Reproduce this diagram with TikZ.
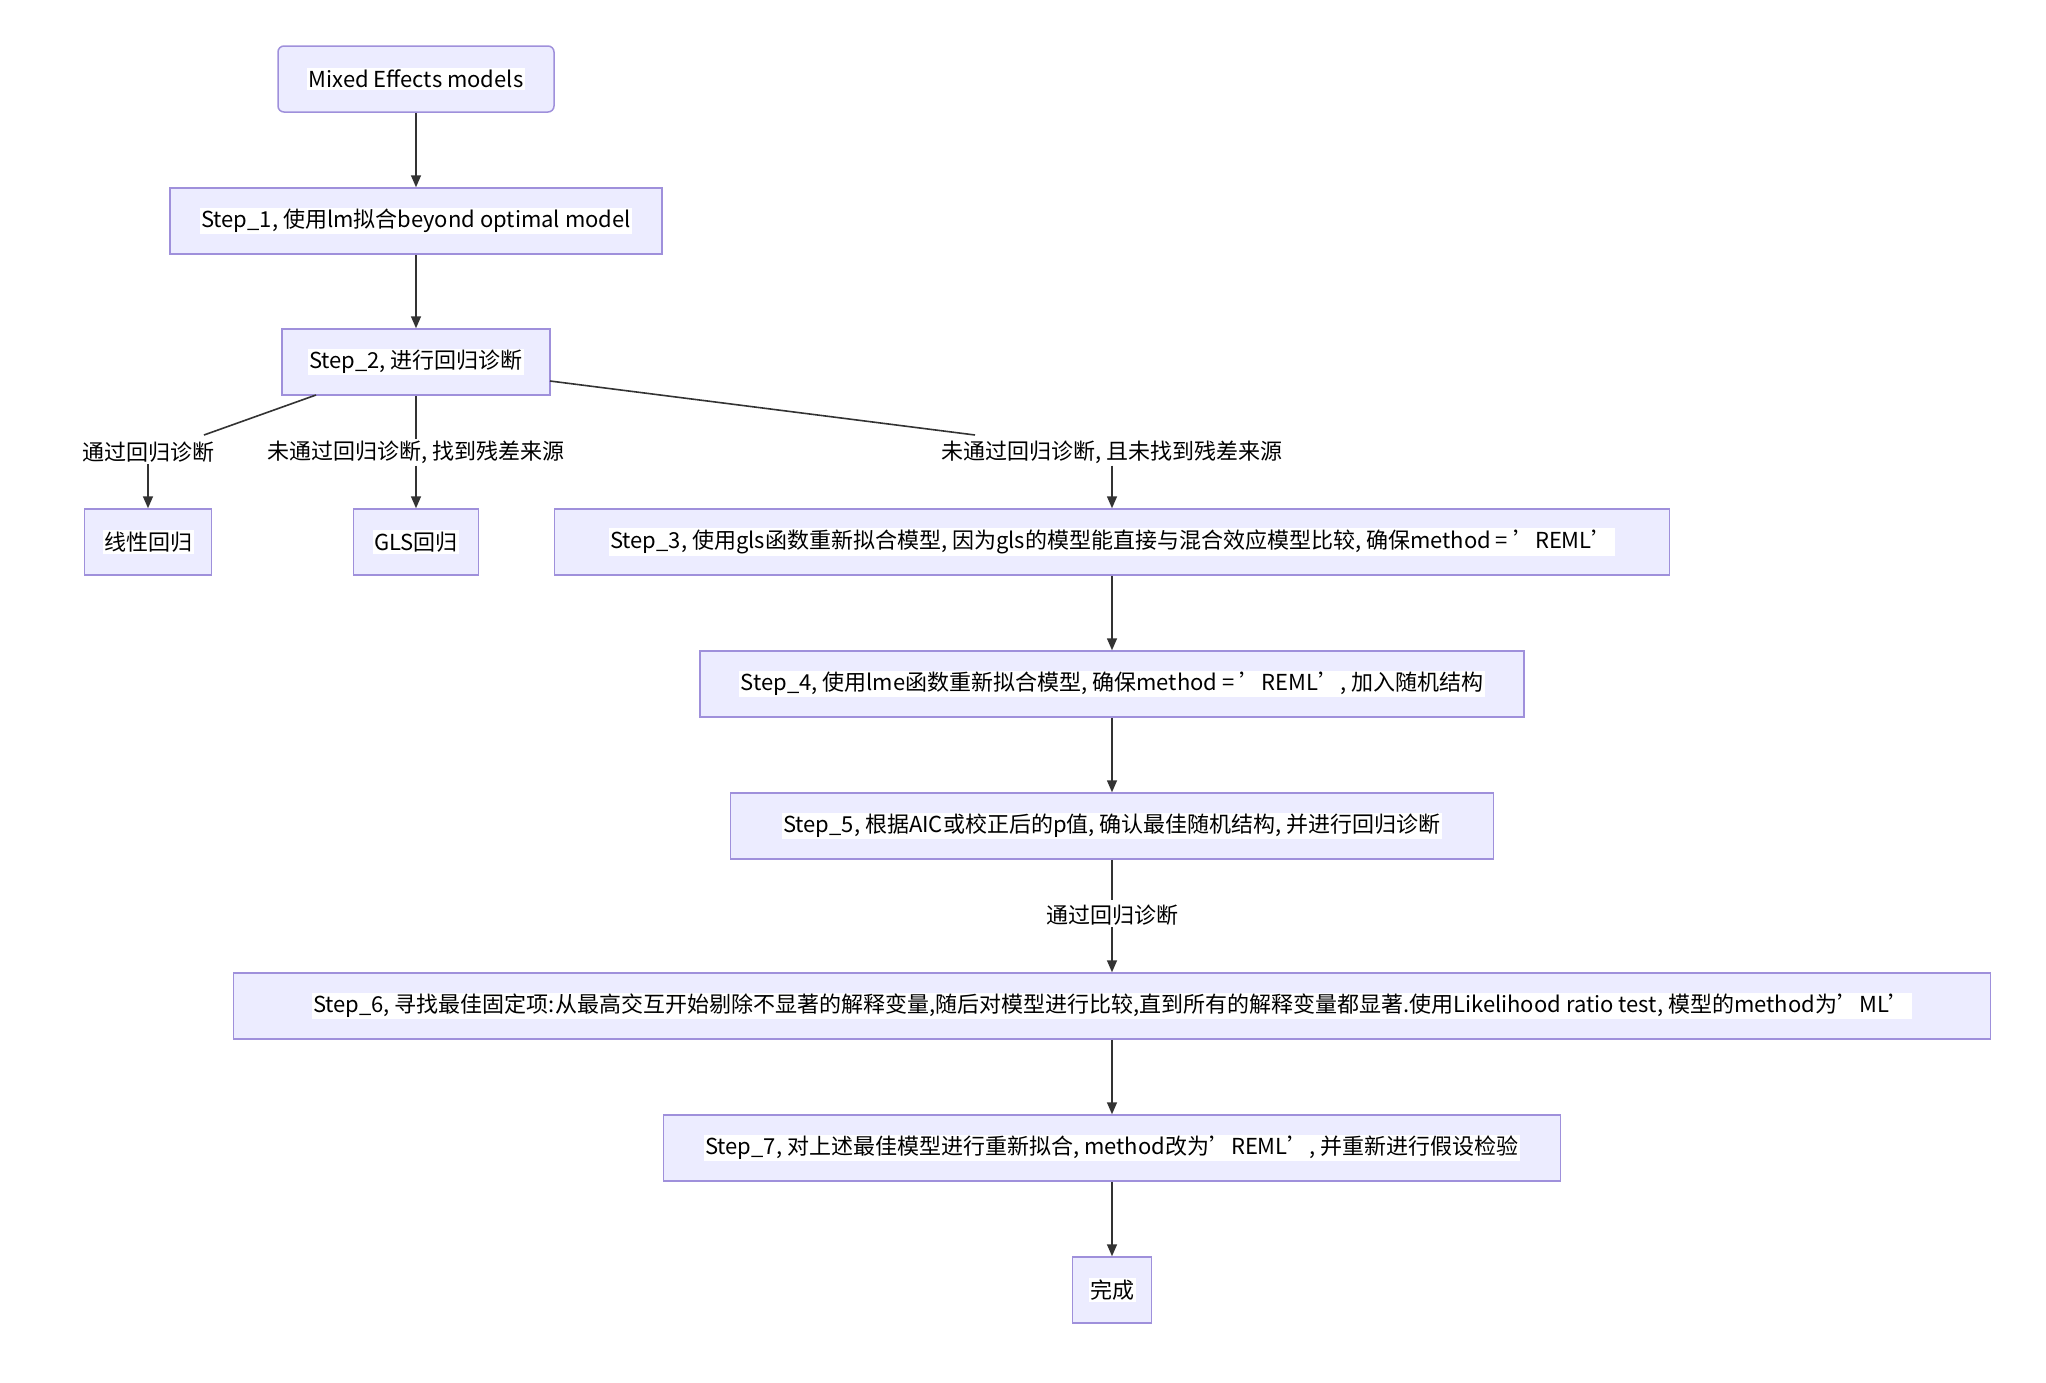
\documentclass[tikz,border=0pt]{standalone}
\usepackage{fontspec}
\setmainfont{Noto Sans CJK SC}
\usetikzlibrary{arrows.meta}
\definecolor{nfill}{HTML}{ECECFF}
\definecolor{nborder}{HTML}{9F90DB}
\definecolor{lineC}{HTML}{333333}
\newcommand{\wb}[1]{\setlength{\fboxsep}{1.5pt}\colorbox{white}{#1}}
\begin{document}
\begin{tikzpicture}[x=1pt,y=-1pt,
  box/.style={draw=nborder,line width=1.5pt,fill=nfill,inner sep=0pt,minimum height=66pt,font=\fontsize{22}{26}\selectfont},
  lab/.style={fill=white,inner sep=2pt,font=\fontsize{22}{26}\selectfont},
  conn/.style={draw=lineC,line width=1.6pt},
  arr/.style={conn,-{Triangle[length=12pt,width=10pt]}}]
\useasboundingbox (0,0) rectangle (2046,1382);
\node[box,rounded corners=6pt,minimum width=276pt] (m) at (416,79) {\wb{Mixed Effects models}};
\node[box,minimum width=492pt] (s1) at (416,221) {\wb{Step\_1, 使用lm拟合beyond optimal model}};
\node[box,minimum width=268pt] (s2) at (416,362) {\wb{Step\_2, 进行回归诊断}};
\node[box,minimum width=127pt] (lin) at (148,542) {\wb{线性回归}};
\node[box,minimum width=125pt] (gls) at (416,542) {\wb{GLS回归}};
\node[box,minimum width=1115pt] (s3) at (1112,542) {\wb{Step\_3, 使用gls函数重新拟合模型, 因为gls的模型能直接与混合效应模型比较, 确保method = 'REML'}};
\node[box,minimum width=824pt] (s4) at (1112,684) {\wb{Step\_4, 使用lme函数重新拟合模型, 确保method = 'REML', 加入随机结构}};
\node[box,minimum width=763pt] (s5) at (1112,826) {\wb{Step\_5, 根据AIC或校正后的p值, 确认最佳随机结构, 并进行回归诊断}};
\node[box,minimum width=1757pt] (s6) at (1112,1006) {\wb{Step\_6, 寻找最佳固定项:从最高交互开始剔除不显著的解释变量,随后对模型进行比较,直到所有的解释变量都显著.使用Likelihood ratio test, 模型的method为'ML'}};
\node[box,minimum width=897pt] (s7) at (1112,1148) {\wb{Step\_7, 对上述最佳模型进行重新拟合, method改为'REML', 并重新进行假设检验}};
\node[box,minimum width=79pt] (done) at (1112,1290) {\wb{完成}};
\coordinate (a1) at (316,395);
\coordinate (b1) at (204,435);
\coordinate (a3) at (550,381);
\coordinate (b3) at (975,435);
\draw[arr] (m) -- (s1);
\draw[arr] (s1) -- (s2);
\draw[conn] (a1) -- (b1);
\draw[conn] (s2) -- (416,440);
\draw[conn] (a3) -- (b3);
\draw[conn] (s5) -- (1112,900);
\node[lab] (l1) at (148,452) {通过回归诊断};
\node[lab] (l2) at (416,452) {未通过回归诊断, 找到残差来源};
\node[lab] (l3) at (1112,452) {未通过回归诊断, 且未找到残差来源};
\node[lab] (l4) at (1112,915) {通过回归诊断};
\draw[arr] (l1) -- (lin);
\draw[arr] (l2) -- (gls);
\draw[arr] (l3) -- (s3);
\draw[arr] (l4) -- (s6);
\draw[arr] (s3) -- (s4);
\draw[arr] (s4) -- (s5);
\draw[arr] (s6) -- (s7);
\draw[arr] (s7) -- (done);
\end{tikzpicture}
\end{document}
